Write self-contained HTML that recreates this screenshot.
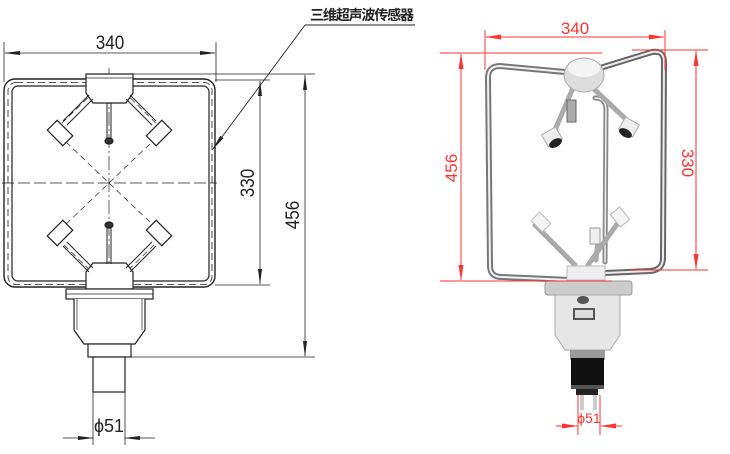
<!DOCTYPE html>
<html><head><meta charset="utf-8"><style>
html,body{margin:0;padding:0;background:#fff;}
svg{display:block;}
</style></head><body>
<svg width="730" height="454" viewBox="0 0 730 454" xmlns="http://www.w3.org/2000/svg" font-family="'Liberation Sans','Noto Sans CJK SC',sans-serif">
<defs>
<marker id="ab" markerWidth="16" markerHeight="6" refX="15" refY="3" orient="auto" markerUnits="userSpaceOnUse"><path d="M0,1 L16,3 L0,5 Z" fill="#222"/></marker>
<marker id="ar" markerWidth="16" markerHeight="6" refX="15" refY="3" orient="auto" markerUnits="userSpaceOnUse"><path d="M0,0.5 L16,3 L0,5.5 Z" fill="#f33"/></marker>
</defs>
<g stroke="#222" fill="none" stroke-width="1.2">
<line x1="4" y1="42" x2="4" y2="82" stroke-width=".8"/>
<line x1="216" y1="42" x2="216" y2="82" stroke-width=".8"/>
<line x1="28" y1="53" x2="5" y2="53" stroke-width=".8" marker-end="url(#ab)"/>
<line x1="28" y1="53" x2="215" y2="53" stroke-width=".8" marker-end="url(#ab)"/>
<rect x="4" y="79" width="211" height="208" rx="11" stroke-width="1.4"/>
<rect x="12" y="86" width="197" height="195" rx="6" stroke-width="1.2"/>
<rect x="8" y="82.5" width="204" height="202" rx="8" stroke-width=".8" stroke-dasharray="7,4"/>
<line x1="2" y1="183" x2="217" y2="183" stroke-width=".7" stroke-dasharray="12,4"/>
<line x1="109" y1="68" x2="109" y2="392" stroke-width=".7" stroke-dasharray="14,3,2,3"/>
<path d="M109,77 L57,128 M109,77 L161,128 M66,142 L109,183 L152,142 M66,224 L109,183 L152,224 M57,238 L109,289 L161,238" stroke-width=".7" stroke-dasharray="6,4"/>
<path d="M86,74 H133 V93 L126,103 H93 L86,93 Z" fill="#fff"/>
<line x1="86" y1="78" x2="133" y2="78" stroke-width=".8"/>
<path d="M86,289 H133 V272 L126,263 H93 L86,272 Z" fill="#fff"/>
<g stroke-width="1">
<path d="M89,95 L63,121 M93,99 L67,125"/>
<path d="M130,95 L156,121 M126,99 L152,125"/>
<path d="M89,272 L63,246 M93,268 L67,242"/>
<path d="M130,272 L156,246 M126,268 L152,242"/>
<path d="M107,103 V138 M111,103 V138"/>
<path d="M107,264 V228 M111,264 V228"/>
</g>
<ellipse cx="109" cy="141" rx="4" ry="3" fill="#333"/>
<ellipse cx="109" cy="225" rx="4" ry="3" fill="#333"/>
<g fill="#fff">
<rect x="-11" y="-7" width="22" height="14" transform="translate(60,133) rotate(45)"/>
<rect x="-11" y="-7" width="22" height="14" transform="translate(159,133) rotate(-45)"/>
<rect x="-11" y="-7" width="22" height="14" transform="translate(60,233) rotate(-45)"/>
<rect x="-11" y="-7" width="22" height="14" transform="translate(159,233) rotate(45)"/>
</g>
<rect x="66" y="289" width="87" height="10" fill="#fff"/>
<line x1="66" y1="294" x2="153" y2="294" stroke-width=".8"/>
<path d="M74,299 V330 L84,344 H135 L145,330 V299" fill="#fff"/>
<line x1="77" y1="299" x2="77" y2="330" stroke-width=".7"/>
<line x1="142" y1="299" x2="142" y2="330" stroke-width=".7"/>
<rect x="88" y="344" width="43" height="13" fill="#fff"/>
<rect x="93" y="357" width="32" height="35" fill="#fff"/>
<line x1="215" y1="80" x2="270" y2="80" stroke-width=".8"/>
<line x1="215" y1="285" x2="270" y2="285" stroke-width=".8"/>
<line x1="260" y1="180" x2="260" y2="81" stroke-width=".8" marker-end="url(#ab)"/>
<line x1="260" y1="180" x2="260" y2="284" stroke-width=".8" marker-end="url(#ab)"/>
<line x1="133" y1="74" x2="315" y2="74" stroke-width=".8"/>
<line x1="131" y1="357" x2="315" y2="357" stroke-width=".8"/>
<line x1="305" y1="200" x2="305" y2="75" stroke-width=".8" marker-end="url(#ab)"/>
<line x1="305" y1="200" x2="305" y2="356" stroke-width=".8" marker-end="url(#ab)"/>
<line x1="93" y1="392" x2="93" y2="445" stroke-width=".8"/>
<line x1="125" y1="392" x2="125" y2="445" stroke-width=".8"/>
<line x1="63" y1="438" x2="93" y2="438" stroke-width=".8" marker-end="url(#ab)"/>
<line x1="155" y1="438" x2="125" y2="438" stroke-width=".8" marker-end="url(#ab)"/>
<line x1="415" y1="25" x2="305" y2="25" stroke-width=".9"/>
<line x1="305" y1="25" x2="213" y2="149" stroke-width=".9" marker-end="url(#ab)"/>
</g>
<g fill="#222" font-size="19">
<text x="110" y="49" text-anchor="middle" transform="translate(110,0) scale(0.9,1) translate(-110,0)">340</text>
<text transform="translate(254,183) rotate(-90) scale(0.9,1)" text-anchor="middle">330</text>
<text transform="translate(299,215) rotate(-90) scale(0.9,1)" text-anchor="middle">456</text>
<text x="109" y="432" text-anchor="middle" font-size="18">ϕ51</text>
<text x="310" y="20" font-size="14" textLength="104" font-weight="bold">三维超声波传感器</text>
</g>

<g fill="none" stroke-linecap="round">
<path d="M565,72 L500,66 Q488,66 488,78 L490,266 Q490,277 502,277 L570,280" stroke="#777" stroke-width="6"/>
<path d="M565,72 L500,66 Q488,66 488,78 L490,266 Q490,277 502,277 L570,280" stroke="#f2f2f2" stroke-width="2"/>
<path d="M600,68 L652,52 Q664,50 664,62 L663,258 Q663,270 650,271 L605,273" stroke="#666" stroke-width="6"/>
<path d="M600,68 L652,52 Q664,50 664,62 L663,258 Q663,270 650,271 L605,273" stroke="#eee" stroke-width="2"/>
<path d="M595,98 Q606,98 606,110 L605,262" stroke="#888" stroke-width="5"/>
<path d="M595,98 Q606,98 606,110 L605,262" stroke="#eee" stroke-width="1.5"/>
<g stroke="#aaa" stroke-width="5">
<line x1="573" y1="88" x2="555" y2="130"/>
<line x1="595" y1="90" x2="632" y2="125"/>
<line x1="575" y1="265" x2="535" y2="225"/>
<line x1="588" y1="265" x2="620" y2="220"/>
<line x1="596" y1="260" x2="598" y2="240"/>
</g>
</g>
<ellipse cx="584" cy="75" rx="20" ry="17" fill="#ddd" stroke="#aaa"/>
<ellipse cx="584" cy="68" rx="16" ry="9" fill="#f4f4f4"/>
<rect x="567" y="100" width="9" height="22" fill="#aaa" stroke="#666"/>
<g transform="translate(552,137) rotate(-30)"><rect x="-8" y="-7" width="16" height="14" fill="#eee" stroke="#aaa"/><ellipse cx="0" cy="7" rx="7" ry="4" fill="#222"/></g>
<g transform="translate(629,127) rotate(30)"><rect x="-8" y="-7" width="16" height="14" fill="#eee" stroke="#aaa"/><ellipse cx="0" cy="7" rx="7" ry="4" fill="#222"/></g>
<g transform="translate(541,222) rotate(45)"><rect x="-8" y="-6" width="16" height="12" fill="#f4f4f4" stroke="#bbb"/></g>
<g transform="translate(620,217) rotate(-40)"><rect x="-6" y="-8" width="12" height="16" fill="#f4f4f4" stroke="#bbb"/></g>
<rect x="590" y="228" width="10" height="16" fill="#eee" stroke="#999"/>
<rect x="567" y="266" width="38" height="14" fill="#eee" stroke="#bbb"/>
<rect x="545" y="281" width="87" height="14" rx="3" fill="#ccc" stroke="#999"/>
<path d="M555,295 H620 V335 L610,350 H565 L555,335 Z" fill="#e6e6e6" stroke="#aaa"/>
<ellipse cx="583" cy="300" rx="6" ry="4" fill="#555"/>
<rect x="573" y="308" width="22" height="12" fill="#555"/>
<rect x="575" y="310" width="18" height="8" fill="#ddd"/>
<rect x="570" y="350" width="35" height="10" fill="#999"/>
<rect x="571" y="358" width="33" height="27" fill="#111"/>
<rect x="576" y="385" width="22" height="10" fill="#222"/>
<rect x="571" y="385" width="33" height="4" fill="#555"/>
<rect x="580" y="395" width="4" height="15" fill="#ccc"/>
<rect x="593" y="395" width="4" height="15" fill="#ccc"/>
<g stroke="#f33" stroke-width="1" fill="none">
<line x1="485" y1="30" x2="485" y2="70"/>
<line x1="665" y1="30" x2="665" y2="70"/>
<line x1="575" y1="37" x2="486" y2="37" marker-end="url(#ar)"/>
<line x1="575" y1="37" x2="664" y2="37" marker-end="url(#ar)"/>
<line x1="440" y1="53" x2="602" y2="53"/>
<line x1="440" y1="281" x2="612" y2="281"/>
<line x1="461" y1="170" x2="461" y2="54" marker-end="url(#ar)"/>
<line x1="461" y1="170" x2="461" y2="280" marker-end="url(#ar)"/>
<line x1="632" y1="50" x2="708" y2="50"/>
<line x1="630" y1="270" x2="708" y2="270"/>
<line x1="696" y1="160" x2="696" y2="51" marker-end="url(#ar)"/>
<line x1="696" y1="160" x2="696" y2="269" marker-end="url(#ar)"/>
<line x1="578" y1="395" x2="578" y2="435"/>
<line x1="600" y1="395" x2="600" y2="435"/>
<line x1="556" y1="426" x2="577" y2="426" marker-end="url(#ar)"/>
<line x1="622" y1="426" x2="601" y2="426" marker-end="url(#ar)"/>
</g>
<g fill="#f33" font-size="17">
<text x="575" y="34" text-anchor="middle">340</text>
<text transform="translate(457,168) rotate(-90)" text-anchor="middle">456</text>
<text transform="translate(682,163) rotate(90)" text-anchor="middle">330</text>
<text x="589" y="423" text-anchor="middle" font-size="14">ϕ51</text>
</g>
</svg>
</body></html>
